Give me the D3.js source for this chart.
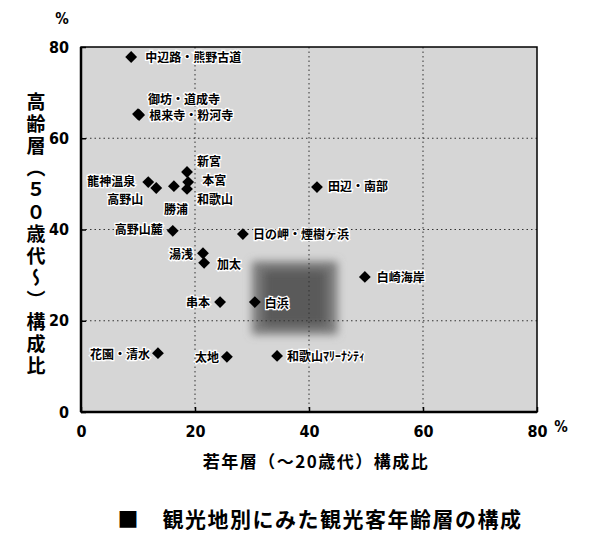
<!DOCTYPE html>
<html><head><meta charset="utf-8">
<script src="https://cdn.jsdelivr.net/npm/d3@7/dist/d3.min.js"></script>
<style>
body{margin:0;background:#fff;}
text{font-family:"Noto Sans CJK JP","Noto Sans",sans-serif;}
.num{font-family:"Liberation Sans Narrow","DejaVu Sans Condensed",sans-serif;font-weight:700;}
</style></head>
<body>
<svg id="chart" width="600" height="541"></svg>
<script>
// ---- data ----
const places = ["中辺路・熊野古道","御坊・道成寺","根来寺・粉河寺","龍神温泉","高野山","新宮","本宮","和歌山","勝浦","田辺・南部","高野山麓","日の岬・煙樹ヶ浜","湯浅","加太","串本","白浜","白崎海岸","花園・清水","太地","和歌山ﾏﾘｰﾅｼﾃｨ"];
const youngShare = [8.8,10.0,10.2,11.8,13.2,18.6,18.8,18.6,16.3,41.4,16.1,28.4,21.4,21.6,24.4,30.5,49.8,13.5,25.6,34.4];
const elderShare = [77.8,65.3,65.1,50.4,49.1,52.6,50.4,48.9,49.5,49.3,39.7,39.0,34.8,32.7,24.1,24.1,29.6,12.9,12.1,12.3];
const xTicks = [0,20,40,60,80];
const yTicks = [0,20,40,60,80];
const highlightX = [30,45];
const highlightY = [17,33];
const xTitle = "若年層（〜20歳代）構成比";
const yTitle = "高齢層（５０歳代〜）構成比";
const chartTitle = "■　観光地別にみた観光客年齢層の構成";

// ---- label layout (dx, dy, anchor) ----
const labelLayout = {
  "中辺路・熊野古道":[14,1,"start"],
  "御坊・道成寺":[10,-14,"start"],
  "根来寺・粉河寺":[10,1,"start"],
  "龍神温泉":[-13,0,"end"],
  "高野山":[-13,12,"end"],
  "新宮":[10,-10,"start"],
  "本宮":[14,-1,"start"],
  "和歌山":[10,11,"start"],
  "勝浦":[2,24,"middle"],
  "田辺・南部":[11,0,"start"],
  "高野山麓":[-10,-1,"end"],
  "日の岬・煙樹ヶ浜":[10,1,"start"],
  "湯浅":[-10,1,"end"],
  "加太":[13,2,"start"],
  "串本":[-10,1,"end"],
  "白浜":[10,2,"start"],
  "白崎海岸":[12,1,"start"],
  "花園・清水":[-8,2,"end"],
  "太地":[-8,1,"end"],
  "和歌山ﾏﾘｰﾅｼﾃｨ":[10,1,"start"]
};

const data = places.map((p,i)=>({name:p,x:youngShare[i],y:elderShare[i]}));

const svg = d3.select("#chart");
const x = d3.scaleLinear().domain([0,80]).range([81,537]);
const y = d3.scaleLinear().domain([0,80]).range([412,47]);

const defs = svg.append("defs");
const blur = defs.append("filter").attr("id","blur").attr("x","-30%").attr("y","-30%").attr("width","160%").attr("height","160%");
blur.append("feGaussianBlur").attr("stdDeviation",4);

// plot background
svg.append("rect").attr("x",x(0)).attr("y",y(80)).attr("width",x(80)-x(0)).attr("height",y(0)-y(80))
  .attr("fill","#d6d6d6");

// highlight region (白浜)
svg.append("rect")
  .attr("x",x(highlightX[0])).attr("y",y(highlightY[1]))
  .attr("width",x(highlightX[1])-x(highlightX[0])).attr("height",y(highlightY[0])-y(highlightY[1]))
  .attr("fill","#7a7a7a").attr("filter","url(#blur)");
svg.append("rect")
  .attr("x",x(highlightX[0]+2)).attr("y",y(highlightY[1]-2))
  .attr("width",x(highlightX[1]-2)-x(highlightX[0]+2)).attr("height",y(highlightY[0]+2)-y(highlightY[1]-2))
  .attr("fill","#5a5a5a").attr("filter","url(#blur)");

// gridlines
const grid = svg.append("g");
grid.selectAll(".gx").data(xTicks.filter(t=>t>0&&t<80)).join("line")
  .attr("x1",d=>x(d)).attr("x2",d=>x(d)).attr("y1",y(80)).attr("y2",y(0))
  .attr("stroke","#333").attr("stroke-width",1).attr("stroke-dasharray","1.5,3");
grid.selectAll(".gy").data(yTicks.filter(t=>t>0&&t<80)).join("line")
  .attr("y1",d=>y(d)).attr("y2",d=>y(d)).attr("x1",x(0)).attr("x2",x(80))
  .attr("stroke","#333").attr("stroke-width",1).attr("stroke-dasharray","1.5,3");

// axes
const xAxis = d3.axisBottom(x).tickValues(xTicks).tickSize(-5).tickPadding(14).tickFormat(d3.format("d"));
const yAxis = d3.axisLeft(y).tickValues(yTicks).tickSize(-5).tickPadding(12).tickFormat(d3.format("d"));
const gx = svg.append("g").attr("transform",`translate(0,${y(0)})`).call(xAxis);
const gy = svg.append("g").attr("transform",`translate(${x(0)},0)`).call(yAxis);
[gx,gy].forEach(g=>{
  g.select(".domain").remove();
  g.selectAll(".tick line").attr("stroke","#000").attr("stroke-width",1.5);
  g.selectAll(".tick text").attr("class","num").attr("font-size",16).attr("fill","#000");
});
gx.selectAll(".tick text").attr("dy","0.71em");

// frame
svg.append("rect").attr("x",x(0)).attr("y",y(80)).attr("width",x(80)-x(0)).attr("height",y(0)-y(80))
  .attr("fill","none").attr("stroke","#000").attr("stroke-width",1.5);
svg.append("line").attr("x1",x(0)).attr("x2",x(80)).attr("y1",y(0)).attr("y2",y(0)).attr("stroke","#000").attr("stroke-width",2.5);
svg.append("line").attr("x1",x(0)).attr("x2",x(0)).attr("y1",y(80)).attr("y2",y(0)).attr("stroke","#000").attr("stroke-width",2.5);

// unit marks
svg.append("text").attr("class","num").attr("x",62).attr("y",24).attr("font-size",15).attr("text-anchor","middle").text("%");
svg.append("text").attr("class","num").attr("x",561).attr("y",432).attr("font-size",15).attr("text-anchor","middle").text("%");

// markers
const sym = d3.symbol().type(d3.symbolSquare).size(70);
svg.append("g").selectAll("path").data(data).join("path")
  .attr("d",sym)
  .attr("transform",d=>`translate(${x(d.x)},${y(d.y)}) rotate(45)`)
  .attr("fill","#000");

// labels
svg.append("g").selectAll("text").data(data).join("text")
  .attr("x",d=>x(d.x)+labelLayout[d.name][0])
  .attr("y",d=>y(d.y)+labelLayout[d.name][1])
  .attr("dy","0.36em")
  .attr("text-anchor",d=>labelLayout[d.name][2])
  .attr("font-size",12).attr("font-weight",700).attr("fill","#000")
  .attr("stroke","#fff").attr("stroke-width",2.5).attr("paint-order","stroke")
  .text(d=>d.name);

// axis titles
svg.append("text").attr("x",316).attr("y",468).attr("text-anchor","middle")
  .attr("font-size",17).attr("font-weight",700).attr("letter-spacing",1.5).text(xTitle);
svg.append("text").attr("x",36).attr("y",92)
  .style("writing-mode","vertical-rl").style("text-orientation","mixed")
  .attr("font-size",19).attr("font-weight",700).attr("letter-spacing",3).text(yTitle);

// title
svg.append("text").attr("x",320).attr("y",527).attr("text-anchor","middle")
  .attr("font-size",21).attr("font-weight",700).attr("letter-spacing",1.5).text(chartTitle);
</script>
</body></html>
